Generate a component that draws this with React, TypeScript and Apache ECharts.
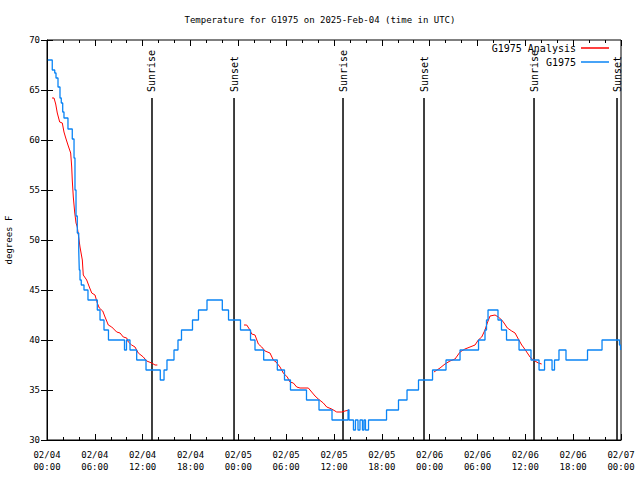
import React, { useEffect, useRef } from "react";
import * as echarts from "echarts";

const FONT = '"DejaVu Sans Mono", "Liberation Mono", monospace';

const chartTitle = "Temperature for G1975 on 2025-Feb-04 (time in UTC)";
const yAxisTitle = "degrees F";
const seriesNames = ["G1975 Analysis", "G1975"];

// hours since 02/04 00:00 UTC
const xTickLabels = [
  "02/04\n00:00", "02/04\n06:00", "02/04\n12:00", "02/04\n18:00",
  "02/05\n00:00", "02/05\n06:00", "02/05\n12:00", "02/05\n18:00",
  "02/06\n00:00", "02/06\n06:00", "02/06\n12:00", "02/06\n18:00",
  "02/07\n00:00",
];

const sunTimes = [13.17, 23.46, 37.13, 47.29, 61.09, 71.5];
const sunLabels = ["Sunrise", "Sunset", "Sunrise", "Sunset", "Sunrise", "Sunset"];

// observed station temperature (value holds until next point)
const blueObs: [number, number][] = [
  [0.1, 68], [0.66, 67], [0.97, 66.7], [1.13, 66.2], [1.38, 65.3], [1.63, 64.2],
  [1.79, 63.7], [1.97, 62.8], [2.13, 62.2], [2.63, 61.1], [3.17, 60.1], [3.39, 58.2],
  [3.51, 55], [3.64, 52.4], [3.8, 50.7], [3.98, 49], [4.05, 47], [4.14, 46],
  [4.3, 45.5], [4.64, 45], [5.14, 44], [6.31, 43], [6.65, 42], [7.15, 41],
  [7.71, 40], [9.72, 39], [9.97, 40], [10.41, 39], [11.25, 38], [12.42, 37],
  [14.21, 36], [14.68, 37], [15.05, 38], [15.93, 39], [16.43, 40], [16.87, 41],
  [18.25, 42], [19.0, 43], [20.07, 44], [21.99, 43], [22.77, 42], [24.27, 41],
  [25.53, 40], [26.09, 39], [27.18, 38], [28.89, 37], [29.79, 36], [30.54, 35],
  [32.55, 34], [34.12, 33], [35.75, 32], [37.76, 33], [37.88, 32], [38.44, 31],
  [38.69, 32], [39.01, 31], [39.26, 32], [39.57, 31], [39.76, 32], [39.95, 31],
  [40.33, 32], [42.59, 33], [44.09, 34], [45.16, 35], [46.6, 36], [48.36, 37],
  [50.05, 38], [51.81, 39], [54.13, 40], [54.94, 41], [55.13, 42], [55.32, 43],
  [56.57, 42], [57.01, 41], [57.64, 40], [59.21, 39], [60.71, 38], [61.72, 37],
  [62.41, 38], [63.35, 37], [63.66, 38], [64.22, 39], [65.1, 38], [67.8, 39],
  [69.62, 40], [71.81, 39.5], [71.94, 39], [72, 39],
];

// analysis segments
const redSeg1: [number, number][] = [
  [0.63, 64.2], [0.88, 64.2], [1.09, 63.6], [1.29, 62.7], [1.59, 61.8], [1.92, 61.7],
  [2.13, 60.8], [2.35, 60.2], [2.63, 59.5], [2.97, 58.7], [3.1, 57.3], [3.17, 56],
  [3.3, 54.3], [3.47, 52.8], [3.64, 51.7], [3.8, 51.3], [4.14, 49.3], [4.43, 48],
  [4.55, 46.5], [4.98, 46], [5.31, 45.3], [5.61, 44.7], [6.02, 44.5], [6.31, 43.7],
  [6.56, 43.2], [6.99, 42.9], [7.28, 42.3], [7.69, 41.5], [8.12, 41.3], [8.74, 40.8],
  [9.16, 40.7], [9.57, 40.3], [10.0, 40.2], [10.2, 39.8], [10.62, 39.5], [11.04, 39.3],
  [11.45, 38.7], [12.08, 38.3], [12.51, 37.9], [13.13, 37.7], [13.55, 37.5], [13.84, 37.5],
];
const redSeg2: [number, number][] = [
  [24.71, 41.5], [25.05, 41.5], [25.46, 41], [25.68, 40.6], [26.09, 40.5], [26.51, 39.6],
  [26.93, 39.3], [27.35, 38.9], [27.97, 38.7], [28.39, 38], [28.73, 37.8], [29.23, 37.3],
  [29.64, 36.7], [30.14, 36.3], [30.48, 35.8], [30.9, 35.7], [31.32, 35.3], [31.74, 35.2],
  [32.24, 35.2], [32.78, 35.2], [33.2, 34.8], [33.62, 34.4], [34.03, 34.1], [34.66, 33.7],
  [35.09, 33.3], [35.71, 33.1], [36.34, 32.8], [36.97, 32.8], [37.38, 32.9], [37.92, 33],
];
const redSeg3: [number, number][] = [
  [48.54, 36.8], [49.3, 37.2], [49.92, 37.6], [50.55, 37.9], [51.18, 38.1], [51.81, 38.8],
  [52.43, 39.1], [53.06, 39.3], [53.69, 39.5], [54.1, 40], [54.53, 40.3], [54.94, 41],
  [55.23, 41.7], [55.57, 42.4], [56.2, 42.5], [56.61, 42.3], [57.04, 42], [57.33, 41.7],
  [57.74, 41.2], [58.29, 40.9], [58.71, 40.7], [59.12, 40.1], [59.55, 39.5], [59.83, 39.2],
  [60.17, 38.8], [60.59, 38.3], [61.0, 38], [61.63, 37.7], [62.05, 37.6],
];

const X_MIN = 0, X_MAX = 72, X_STEP = 6;
const Y_MIN = 30, Y_MAX = 70, Y_STEP = 5;
const SUN_LINE_TOP = 64.2;

const RED = "#ff0000";
const BLUE = "#0a84f5";

export default function App() {
  const ref = useRef<HTMLDivElement>(null);
  useEffect(() => {
    if (!ref.current) return;
    const chart = echarts.init(ref.current, null, { renderer: "svg" });
    const xBase = {
      type: "value",
      min: X_MIN,
      max: X_MAX,
      interval: X_STEP,
      splitLine: { show: false },
      axisTick: { show: true, inside: true, length: 6, lineStyle: { color: "#000" } },
      minorTick: { show: true, splitNumber: 3, length: 3, lineStyle: { color: "#000" } },
    };
    const yBase = {
      type: "value",
      min: Y_MIN,
      max: Y_MAX,
      interval: Y_STEP,
      splitLine: { show: false },
      axisTick: { show: true, inside: true, length: 6, lineStyle: { color: "#000" } },
    };
    const redStyle = {
      type: "line",
      name: seriesNames[0],
      showSymbol: false,
      symbol: "none",
      lineStyle: { color: RED, width: 1 },
      itemStyle: { color: RED },
      silent: true,
    };
    chart.setOption({
      animation: false,
      backgroundColor: "#fff",
      textStyle: { fontFamily: FONT },
      title: {
        text: chartTitle,
        left: "center",
        top: 10,
        textStyle: { fontFamily: FONT, fontSize: 9, fontWeight: "normal", color: "#000" },
      },
      legend: {
        data: seriesNames,
        orient: "vertical",
        align: "right",
        right: 31,
        top: 42,
        padding: 0,
        itemWidth: 28,
        itemHeight: 1.5,
        itemGap: 2,
        icon: "rect",
        selectedMode: false,
        textStyle: { fontFamily: FONT, fontSize: 10, color: "#000", lineHeight: 12 },
      },
      grid: {
        left: 47,
        right: 19,
        top: 40,
        bottom: 40,
        containLabel: false,
        outerBoundsMode: "none",
        show: true,
        borderColor: "#000",
        borderWidth: 1,
        backgroundColor: "transparent",
      },
      xAxis: [
        {
          ...xBase,
          position: "bottom",
          axisLine: { show: true, lineStyle: { color: "#000", width: 1 } },
          axisLabel: {
            margin: 9,
            fontFamily: FONT,
            fontSize: 9,
            color: "#000",
            lineHeight: 12,
            formatter: (v: number) => xTickLabels[Math.round((v - X_MIN) / X_STEP)] ?? "",
          },
        },
        {
          ...xBase,
          position: "top",
          axisLine: { show: false },
          axisLabel: { show: false },
        },
      ],
      yAxis: [
        {
          ...yBase,
          position: "left",
          name: yAxisTitle,
          nameLocation: "middle",
          nameGap: 34,
          nameRotate: 90,
          nameTextStyle: { fontFamily: FONT, fontSize: 9, color: "#000" },
          axisLine: { show: true, lineStyle: { color: "#000", width: 1 } },
          axisLabel: { margin: 7, fontFamily: FONT, fontSize: 9, color: "#000" },
        },
        {
          ...yBase,
          position: "right",
          axisLine: { show: false },
          axisLabel: { show: false },
        },
      ],
      series: [
        { ...redStyle, data: redSeg1 },
        { ...redStyle, data: redSeg2 },
        { ...redStyle, data: redSeg3 },
        {
          type: "line",
          name: seriesNames[1],
          data: blueObs,
          step: "end",
          showSymbol: false,
          symbol: "none",
          lineStyle: { color: BLUE, width: 1.3 },
          itemStyle: { color: BLUE },
          silent: true,
        },
        {
          type: "custom",
          name: "sun",
          silent: true,
          clip: false,
          data: sunTimes.map((t, i) => [t, i]),
          renderItem: (_params: any, api: any) => {
            const t = api.value(0);
            const idx = api.value(1);
            const bottom = api.coord([t, Y_MIN]);
            const top = api.coord([t, SUN_LINE_TOP]);
            return {
              type: "group",
              children: [
                {
                  type: "line",
                  shape: { x1: bottom[0], y1: bottom[1], x2: top[0], y2: top[1] },
                  style: { stroke: "#000", lineWidth: 1.5 },
                },
                {
                  type: "text",
                  x: top[0],
                  y: top[1] - 6,
                  rotation: Math.PI / 2,
                  style: {
                    text: sunLabels[idx],
                    align: "left",
                    verticalAlign: "middle",
                    font: `10px ${FONT}`,
                    fill: "#000",
                  },
                },
              ],
            };
          },
        },
      ],
    });
    return () => chart.dispose();
  }, []);
  return (
    <div
      ref={ref}
      style={{ position: "fixed", left: 0, top: 0, width: 640, height: 480, background: "#fff" }}
    />
  );
}
